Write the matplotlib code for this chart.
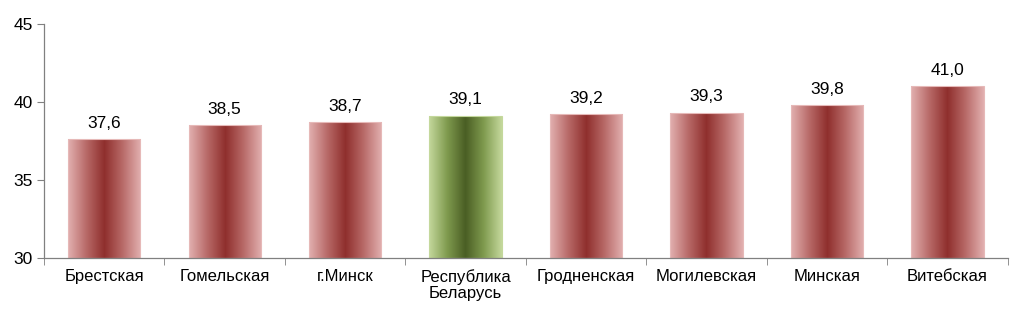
import numpy as np
import matplotlib
matplotlib.use("Agg")
import matplotlib.pyplot as plt
from matplotlib.colors import LinearSegmentedColormap

plt.rcParams["font.family"] = ["Liberation Sans", "DejaVu Sans"]

# ── Data ─────────────────────────────────────────────────────────────────────
categories = ["Брестская", "Гомельская", "г.Минск", "Республика\nБеларусь",
              "Гродненская", "Могилевская", "Минская", "Витебская"]
values = [37.6, 38.5, 38.7, 39.1, 39.2, 39.3, 39.8, 41.0]
highlight = "Республика\nБеларусь"

red_cmap = LinearSegmentedColormap.from_list(
    "red", ["#e2b0b0", "#b86a68", "#8f2f2d", "#b86a68", "#e2b0b0"])
green_cmap = LinearSegmentedColormap.from_list(
    "green", ["#c4d89c", "#7f9a4e", "#4a5e24", "#7f9a4e", "#c4d89c"])

# ── Figure ───────────────────────────────────────────────────────────────────
fig = plt.figure(figsize=(10.24, 3.18), dpi=100)
ax = fig.add_axes([0.043, 0.1887, 0.941, 0.7358])

x = np.arange(len(categories))
width = 0.6
bars = ax.bar(x, values, width=width, bottom=0, color="none",
              edgecolor="none", zorder=2)

grad = np.linspace(0, 1, 256).reshape(1, -1)
for bar, cat, val in zip(bars, categories, values):
    is_hl = cat == highlight
    cmap = green_cmap if is_hl else red_cmap
    x0 = bar.get_x()
    im = ax.imshow(grad, cmap=cmap, aspect="auto",
                   extent=[x0, x0 + width, 30, val], zorder=2)
    im.set_clip_path(bar)
    # thin light outline like the original
    ax.bar(bar.get_x() + width / 2, val - 30, width=width, bottom=30,
           color="none", edgecolor="#c4d89c" if is_hl else "#e6b9b8",
           linewidth=0.8, zorder=3)
    ax.text(bar.get_x() + width / 2, val + 0.55, f"{val:.1f}".replace(".", ","),
            ha="center", va="bottom", fontsize=12.5, color="#000000")

ax.set_xlim(-0.5, len(categories) - 0.5)
ax.set_ylim(30, 45)
ax.set_yticks([30, 35, 40, 45])
ax.set_xticks(x)
ax.set_xticklabels(categories, fontsize=12, linespacing=1.05)
ax.set_xticks(np.arange(len(categories) + 1) - 0.5, minor=True)
ax.tick_params(axis="x", which="major", length=0, pad=8)
ax.tick_params(axis="x", which="minor", length=5, direction="out", color="#808080")
ax.tick_params(axis="y", length=5, direction="out", color="#808080",
               labelsize=12.5, pad=3)

for s in ["top", "right"]:
    ax.spines[s].set_visible(False)
for s in ["left", "bottom"]:
    ax.spines[s].set_color("#808080")
    ax.spines[s].set_linewidth(0.9)
    ax.spines[s].set_zorder(4)

plt.savefig("out.png", dpi=100)
